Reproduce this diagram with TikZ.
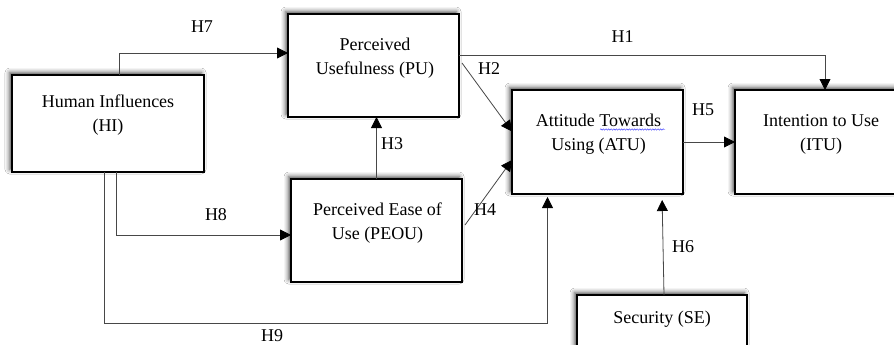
\documentclass[tikz,border=0pt]{standalone}
\usepackage{fontspec}
\setmainfont{Liberation Serif}
\usetikzlibrary{arrows.meta,shadows.blur,decorations.pathmorphing}
\begin{document}
\begin{tikzpicture}[x=1pt,y=-1pt,
  every node/.style={font=\fontsize{18}{24}\selectfont},
  box/.style={draw=black, line width=1.4pt, fill=white, inner sep=0pt, outer sep=0pt,
    blur shadow={shadow xshift=-2.5pt, shadow yshift=2.5pt, shadow blur radius=4.5pt, shadow opacity=70}},
  boxtext/.style={anchor=north, align=center, inner sep=0pt},
  conn/.style={draw=black!72, line width=0.8pt, -{Triangle[length=11pt,width=11pt,fill=black,color=black]}},
  hlab/.style={inner sep=0pt}
]
\useasboundingbox (0,0) rectangle (894,345);
\clip (0,0) rectangle (894,345);
\fill[white] (0,0) rectangle (894,345);

% boxes
\node[box, minimum width=192pt, minimum height=97pt] (hi) at (108,123.5) {};
\node[box, minimum width=171pt, minimum height=103pt] (pu) at (373.5,65.5) {};
\node[box, minimum width=171pt, minimum height=103pt] (pe) at (376.5,230.5) {};
\node[box, minimum width=171pt, minimum height=104pt] (atu) at (597.5,142) {};
\node[box, minimum width=171pt, minimum height=104pt] (itu) at (820.5,142) {};
\node[box, minimum width=170pt, minimum height=103pt] (se) at (662,346.5) {};

% box texts
\node[boxtext] (hit) at (108,94.5) {Human Influences\\(HI)};
\node[boxtext] (put) at (375,37.5) {Perceived\\Usefulness (PU)};
\node[boxtext] (pet) at (377.5,202.5) {Perceived Ease of\\Use (PEOU)};
\node[boxtext] (atut) at (598.5,113.5) {Attitude Towards\\Using (ATU)};
\node[boxtext] (itut) at (821,114.5) {Intention to Use\\(ITU)};
\node[boxtext] (set) at (662,310.5) {Security (SE)};
\draw[blue!75!white, line width=0.45pt, decorate,
  decoration={snake, amplitude=0.7pt, segment length=2.6pt}] (600,129.5) -- (665,129.5);

% connectors
\draw[conn] ([xshift=11pt]hi.north) |- ([yshift=12.5pt]pu.west);
\draw[conn] ([xshift=8pt]hi.south) |- ([yshift=-4.5pt]pe.west);
\draw[conn, shorten >=3pt] ([xshift=-4pt]hi.south) -- ++(0,151) -| ([xshift=-50pt]atu.south);
\draw[conn] (pe.north) -- (pe.north |- pu.south);
\draw[conn] ([yshift=10.5pt]pu.east) -| ([xshift=4.5pt]itu.north);
\draw[conn] ([shift={(3pt,2.5pt)}]pu.east) -- ([yshift=10.5pt]atu.west);
\draw[conn] ([shift={(3pt,5.5pt)}]pe.east) -- ([yshift=-18pt]atu.west);
\draw[conn] (atu.east) -- (itu.west |- atu.east);
\draw[conn, shorten >=6pt] ([xshift=2pt]se.north) -- ([xshift=64.5pt]atu.south);

% labels
\node[hlab] (h7) at (202,27) {H7};
\node[hlab] (h8) at (216,215) {H8};
\node[hlab] (h9) at (272,336) {H9};
\node[hlab] (h3) at (392,144) {H3};
\node[hlab] (h1) at (622.5,37) {H1};
\node[hlab] (h2) at (489,69) {H2};
\node[hlab] (h4) at (485,209.5) {H4};
\node[hlab] (h5) at (703,109.5) {H5};
\node[hlab] (h6) at (683,246.5) {H6};
\end{tikzpicture}
\end{document}
